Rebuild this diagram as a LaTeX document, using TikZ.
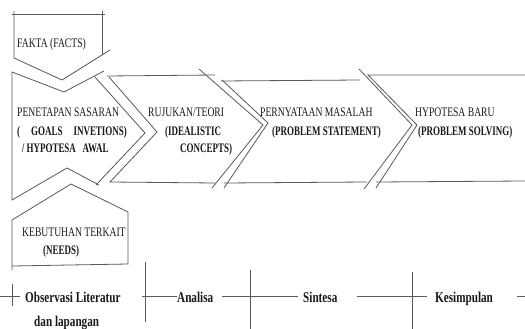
\documentclass[tikz,border=0pt]{standalone}
\usepackage{fontspec}
\setmainfont{Liberation Serif}
\usepackage{graphicx}
\newcommand\cxr[1]{\scalebox{0.74}[1]{#1}}
\newcommand\cxb[1]{\scalebox{0.69}[1]{#1}}
\newcommand\cxw[1]{\scalebox{0.745}[1]{#1}}
\begin{document}
\begin{tikzpicture}[x=1pt,y=-1pt,
  edge/.style={draw=black!65,line width=0.8pt},
  lbl/.style={inner sep=0pt,anchor=base west,text=black!90,font=\fontsize{13}{15}\selectfont},
  blbl/.style={lbl,font=\fontsize{13}{15}\selectfont\bfseries},
  rowlbl/.style={inner sep=0pt,anchor=base west,text=black!90,font=\fontsize{15}{17}\selectfont\bfseries}]
\useasboundingbox[fill=white] (0,0) rectangle (525,329);

% FAKTA
\draw[edge] (12,14) -- (105,14);
\draw[edge] (14,11) -- (14,58) -- (62,80) -- (110,50);
\draw[edge] (102,11) -- (102,55);
\node[lbl] (fakta) at (17,48) {\cxr{FAKTA (FACTS)}};

% PENETAPAN
\draw[edge] (104,71) -- (64,92) -- (12,72) -- (12,200) -- (67,168) -- (99,185);
\draw[edge] (95,77) -- (145,133) -- (96,185);
\node[lbl] (pen1) at (17,117) {\cxr{PENETAPAN SASARAN}};
\node[blbl] (pen2) at (17,135) {\cxb{\makebox[159pt][s]{( GOALS INVETIONS)}}};
\node[blbl] (pen3) at (15,152) {\cxb{\makebox[145pt]{\hbox{/ HYPOTESA}\hfil AWAL}}};

% RUJUKAN
\draw[edge] (107,76) -- (215,75);
\draw[edge] (109,77) -- (157,132) -- (110,182) -- (215,183);
\draw[edge] (199,69) -- (263,125) -- (212,188);
\node[lbl] (ruj1) at (148,117) {\cxr{RUJUKAN/TEORI}};
\node[blbl] (ruj2) at (165,135) {\cxb{(IDEALISTIC}};
\node[blbl] (ruj3) at (180,152) {\cxb{CONCEPTS)}};

% PERNYATAAN
\draw[edge] (221,81) -- (360,80);
\draw[edge] (222,80) -- (268,123) -- (224,188);
\draw[edge] (224,183) -- (367,182);
\draw[edge] (359,69) -- (412,125) -- (364,189);
\node[lbl] (per1) at (260,117) {\cxr{PERNYATAAN MASALAH}};
\node[blbl] (per2) at (272,135) {\cxb{(PROBLEM STATEMENT)}};

% HYPOTESA
\draw[edge] (525,75) -- (368,75) -- (417,125) -- (376,188);
\draw[edge] (376,182) -- (525,181);
\node[lbl] (hyp1) at (415,117) {\cxr{HYPOTESA BARU}};
\node[blbl] (hyp2) at (418,135) {\cxb{(PROBLEM SOLVING)}};

% KEBUTUHAN
\draw[edge] (12,270) -- (12,220) -- (71,184) -- (128,212) -- (128,264) -- (12,266);
\node[lbl] (keb1) at (22,236) {\cxr{KEBUTUHAN TERKAIT}};
\node[blbl] (keb2) at (43,254) {\cxb{(NEEDS)}};

% bottom row
\node[rowlbl] (obs) at (25,302) {\cxw{Observasi Literatur}};
\node[rowlbl] (dan) at (34,326) {\cxw{dan lapangan}};
\node[rowlbl] (ana) at (177,302) {\cxw{Analisa}};
\node[rowlbl] (sin) at (303,302) {\cxw{Sintesa}};
\node[rowlbl] (kes) at (435,302) {\cxw{Kesimpulan}};

\coordinate (r0) at (0,296);
\coordinate (r1) at (20,296);
\coordinate (r2) at (142,296);
\coordinate (r3) at (298,296);
\coordinate (r4) at (427,296);
\coordinate (r5) at (517,296);
\coordinate (r6) at (525,296);
\draw[edge] (r0) -- (r1);
\draw[edge] (r2) -- (r2 -| ana.west);
\draw[edge] ([xshift=9pt]ana.east |- r3) -- (r3);
\draw[edge] ([xshift=19pt]sin.east |- r4) -- (r4);
\draw[edge] (r5) -- (r6);

\draw[edge] (12,284) -- (12,306);
\draw[edge] (145,262) -- (145,322);
\draw[edge] (250,270) -- (250,329);
\draw[edge] (412,272) -- (412,329);
\end{tikzpicture}
\end{document}
